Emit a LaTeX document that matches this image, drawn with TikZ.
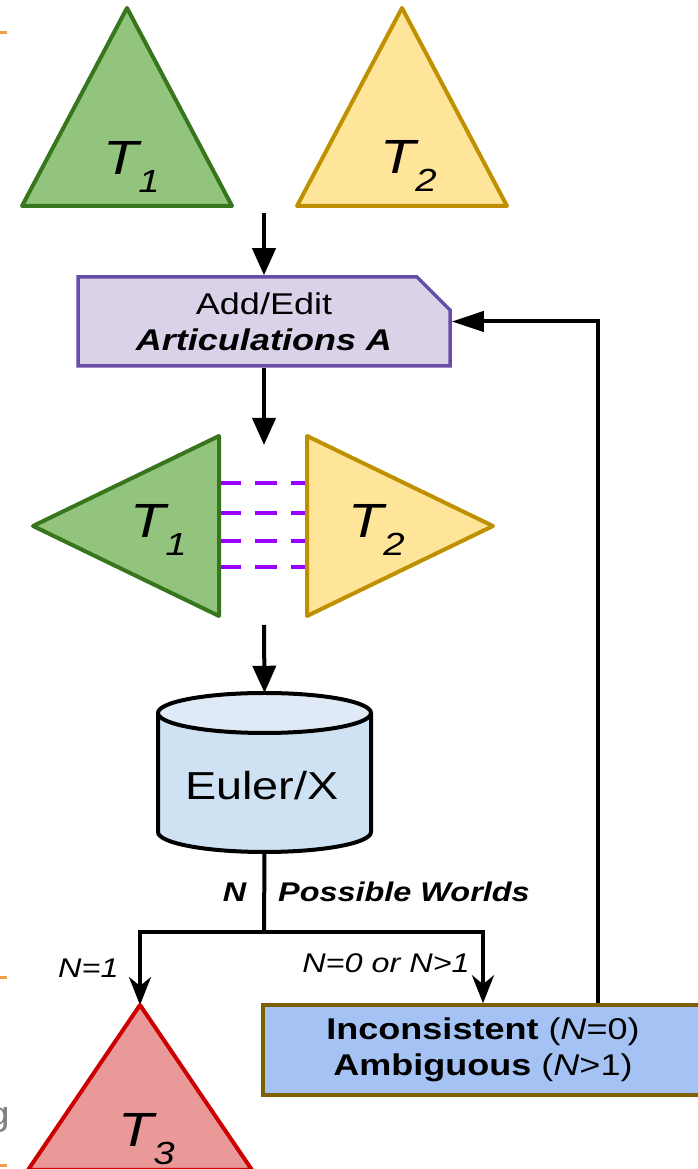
\documentclass[tikz,border=0pt]{standalone}
\usepackage{fontspec}
\setmainfont{Liberation Sans}[FakeStretch=1.2]
\usetikzlibrary{arrows.meta,shapes.misc}
\definecolor{gfill}{HTML}{93C47D}
\definecolor{gdraw}{HTML}{38761D}
\definecolor{yfill}{HTML}{FFE599}
\definecolor{ydraw}{HTML}{BF9000}
\definecolor{pfill}{HTML}{D9D2E9}
\definecolor{pdraw}{HTML}{674EA7}
\definecolor{dashc}{HTML}{9900FF}
\definecolor{cbody}{HTML}{CFE2F3}
\definecolor{ctop}{HTML}{DFEAF6}
\definecolor{rfill}{HTML}{EA9999}
\definecolor{rdraw}{HTML}{CC0000}
\definecolor{bfill}{HTML}{A4C2F4}
\definecolor{bdraw}{HTML}{7F6000}
\definecolor{omark}{HTML}{F39C4A}
\newcommand\fsz[1]{\fontsize{#1}{#1}\selectfont}
\newcommand\tlabel[1]{{\fsz{48}\itshape T}\raisebox{-18pt}{\fsz{32}\itshape #1}}
\tikzset{
  greentri/.style={fill=gfill,draw=gdraw,line width=4pt,line join=round},
  yellowtri/.style={fill=yfill,draw=ydraw,line width=4pt,line join=round},
  redtri/.style={fill=rfill,draw=rdraw,line width=4pt,line join=round},
  artic/.style={draw=dashc,line width=4pt,dash pattern=on 22pt off 14pt},
  conn/.style={draw=black,line width=4pt},
  arrT/.style={conn,-{Triangle[width=23pt,length=27pt]}},
  arrL/.style={conn,-{Triangle[width=20pt,length=32pt]}},
  arrS/.style={conn,-{Stealth[width=22pt,length=28pt,inset=9pt]}},
  lbl/.style={inner sep=0pt,text=black},
  omarkst/.style={draw=omark,line width=3pt},
}
\begin{document}
\begin{tikzpicture}[x=1pt,y=1pt]
\useasboundingbox (0,0) rectangle (698,1169);
\clip (0,0) rectangle (698,1169);
\fill[white] (0,0) rectangle (698,1169);
% cropped-edge marks
\draw[omarkst] (0,1136) -- (7,1136);
\draw[omarkst] (0,191) -- (7,191);
\draw[omarkst] (0,3) -- (7,3);
\node[lbl,anchor=base east,text=black!50] (gcut) at (10,43) {\fsz{34}g};
% top trees
\draw[greentri] (22,963) -- (127,1161) -- (232,963) -- cycle;
\draw[yellowtri] (297,963) -- (402,1161) -- (507,963) -- cycle;
\node[lbl,anchor=base west] (t1a) at (103,994) {\tlabel{1}};
\node[lbl,anchor=base west] (t2a) at (380,995) {\tlabel{2}};
% articulation box
\node[chamfered rectangle, chamfered rectangle corners=north east,
      chamfered rectangle xsep=18pt, chamfered rectangle ysep=15pt,
      minimum width=372pt, minimum height=89pt, inner sep=0pt,
      fill=pfill, draw=pdraw, line width=3.5pt, align=center,
      font=\fontsize{30}{36}\selectfont] (ae) at (264,847.5)
      {Add/Edit\\ \textbf{\textit{Articulations A}}};
\coordinate (a1) at (264,956);
\draw[arrT] (a1) -- (ae.north);
% aligned trees
\coordinate (mt) at (264,724);
\draw[arrT] (ae.south) -- (mt);
\foreach \yy in {686,656,628,602} \draw[artic] (219,\yy) -- (307,\yy);
\draw[greentri] (219,733) -- (33,643) -- (219,553) -- cycle;
\draw[yellowtri] (307,733) -- (493,643) -- (307,553) -- cycle;
\node[lbl,anchor=base west] (t1b) at (130,631) {\tlabel{1}};
\node[lbl,anchor=base west] (t2b) at (348,631) {\tlabel{2}};
% reasoner
\node[inner sep=0pt, minimum width=213pt, minimum height=159pt] (db) at (264.5,396.5) {};
\fill[cbody] (158,456) -- (158,337) arc[start angle=180,end angle=360,x radius=106.5,y radius=20] -- (371,456) -- cycle;
\draw[conn] (158,456) -- (158,337) arc[start angle=180,end angle=360,x radius=106.5,y radius=20] -- (371,456);
\draw[conn,fill=ctop] (264.5,456) ellipse[x radius=106.5,y radius=20];
\node[lbl,anchor=base] (dbt) at (262,369) {\fsz{39}Euler/X};
\coordinate (a3) at (264,544);
\draw[arrT] (a3) -- (db.north);
% branches
\coordinate (br) at (264,237);
\coordinate (t3top) at (140,164);
\node[rectangle, minimum width=440pt, minimum height=90pt, inner sep=0pt,
      fill=bfill, draw=bdraw, line width=3.5pt, align=center,
      font=\fontsize{30}{36}\selectfont] (inc) at (483,119)
      {\textbf{Inconsistent} (\textit{N}=0)\\ \textbf{Ambiguous} (\textit{N}>1)};
\draw[conn] (db.south) -- (br);
\draw[arrS] (br) -| (t3top);
\draw[arrS] (br) -| (inc.north);
\node[lbl,anchor=base east] (lN) at (247,267) {\fsz{27}\textbf{\textit{N}}};
\node[lbl,anchor=base west] (lpw) at (278,267) {\fsz{27}\textbf{\textit{Possible Worlds}}};
\node[lbl,anchor=base west] (l1) at (58,191) {\fsz{27}\textit{N=1}};
\node[lbl,anchor=base east] (l2) at (470,196) {\fsz{27}\textit{N=0 or N>1}};
% result tree
\draw[redtri] (28,-1) -- (t3top) -- (252,-1) -- cycle;
\node[lbl,anchor=base west] (t3) at (118,23) {\tlabel{3}};
% feedback loop
\coordinate (ret) at (598,0);
\draw[arrL] (inc.north -| ret) |- (ae.east);
\end{tikzpicture}
\end{document}
